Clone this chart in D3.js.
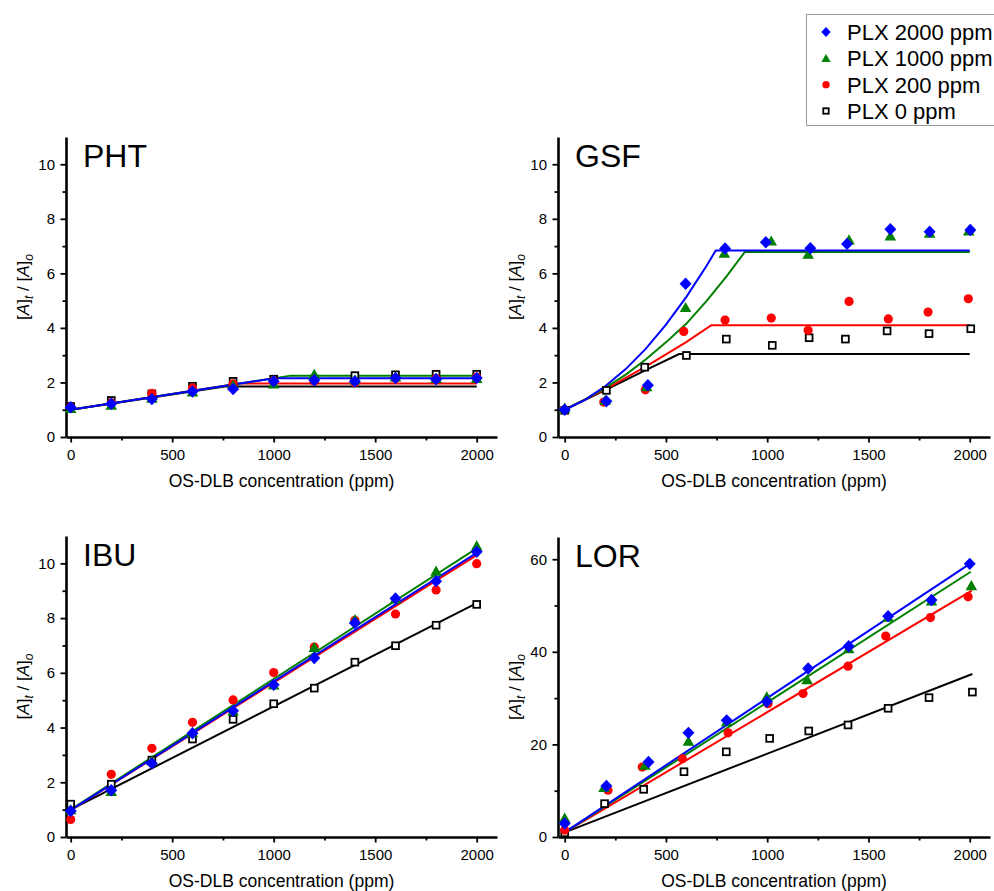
<!DOCTYPE html>
<html>
<meta charset="utf-8">
<script src="https://d3js.org/d3.v7.min.js"></script>
<style>
  body { margin: 0; background: #fff; }
  text { font-family: "Liberation Sans", Arial, sans-serif; fill: #000; }
</style>
<body>
<div id="vis"></div>
<script>
// ---- data ----
var dose = [0, 200, 400, 600, 800, 1000, 1200, 1400, 1600, 1800, 2000];
var seriesNames = ["PLX 2000 ppm", "PLX 1000 ppm", "PLX 200 ppm", "PLX 0 ppm"];

// PHT
var phtBlue  = [1.09, 1.22, 1.39, 1.67, 1.76, 2.04, 2.08, 2.04, 2.16, 2.12, 2.16];
var phtGreen = [1.05, 1.17, 1.42, 1.65, 1.90, 1.95, 2.30, 2.10, 2.20, 2.15, 2.15];
var phtRed   = [1.10, 1.25, 1.60, 1.80, 1.95, 2.05, 2.05, 2.00, 2.15, 2.15, 2.20];
var phtBlack = [1.12, 1.34, 1.58, 1.86, 2.04, 2.12, 2.10, 2.25, 2.28, 2.30, 2.30];
var phtFitBlue  = [[0, 1.0], [1000, 2.15], [2000, 2.15]];
var phtFitGreen = [[0, 1.0], [1085, 2.25], [2000, 2.25]];
var phtFitRed   = [[0, 1.0], [830, 1.96], [2000, 1.96]];
var phtFitBlack = [[0, 1.0], [760, 1.85], [2000, 1.85]];

// GSF
var gsfBlueX  = [0, 206, 411, 597, 792, 993, 1213, 1394, 1608, 1802, 2003];
var gsfBlue   = [1.0, 1.31, 1.90, 5.62, 6.91, 7.14, 6.92, 7.08, 7.62, 7.53, 7.59];
var gsfGreenX = [0, 200, 405, 597, 788, 1020, 1202, 1404, 1608, 1802, 1995];
var gsfGreen  = [1.06, 1.35, 1.85, 4.75, 6.74, 7.19, 6.70, 7.23, 7.37, 7.47, 7.56];
var gsfRedX   = [0, 193, 398, 588, 792, 1020, 1202, 1404, 1598, 1794, 1993];
var gsfRed    = [1.0, 1.28, 1.73, 3.87, 4.29, 4.36, 3.91, 4.97, 4.33, 4.58, 5.07];
var gsfBlackX = [0, 206, 395, 601, 798, 1025, 1207, 1386, 1592, 1799, 2005];
var gsfBlack  = [0.98, 1.71, 2.56, 2.99, 3.59, 3.36, 3.64, 3.59, 3.89, 3.79, 3.97];
var gsfFitBlue  = [[0, 1.0], [100, 1.36], [200, 1.86], [300, 2.48], [400, 3.23], [500, 4.12], [600, 5.13], [700, 6.27], [746, 6.84], [2000, 6.84]];
var gsfFitGreen = [[0, 1.0], [100, 1.37], [200, 1.80], [300, 2.28], [400, 2.84], [500, 3.47], [600, 4.15], [700, 4.98], [800, 5.90], [889, 6.78], [2000, 6.78]];
var gsfFitRed   = [[0, 1.0], [200, 1.75], [400, 2.58], [600, 3.48], [724, 4.10], [2000, 4.10]];
var gsfFitBlack = [[0, 1.0], [200, 1.72], [400, 2.45], [565, 3.04], [2000, 3.04]];

// IBU
var ibuBlue  = [0.95, 1.71, 2.69, 3.79, 4.61, 5.56, 6.54, 7.82, 8.72, 9.35, 10.42];
var ibuGreen = [1.00, 1.67, 2.79, 3.81, 4.61, 5.56, 6.93, 7.95, 8.70, 9.72, 10.64];
var ibuRed   = [0.64, 2.29, 3.24, 4.19, 5.01, 6.01, 6.94, 7.92, 8.15, 9.03, 9.99];
var ibuBlack = [1.20, 1.93, 2.81, 3.58, 4.30, 4.87, 5.44, 6.39, 6.99, 7.74, 8.50];
var ibuFitBlue  = [[0, 0.98], [2000, 10.38]];
var ibuFitGreen = [[0, 1.0], [2000, 10.55]];
var ibuFitRed   = [[0, 0.98], [2000, 10.30]];
var ibuFitBlack = [[0, 1.0], [2000, 8.55]];

// LOR
var lorBlueX  = [0, 206, 414, 611, 800, 998, 1202, 1402, 1597, 1811, 2000];
var lorBlue   = [2.9, 11.0, 16.2, 22.5, 25.2, 29.2, 36.4, 41.2, 47.7, 51.2, 59.0];
var lorGreenX = [0, 194, 396, 611, 800, 998, 1197, 1402, 1597, 1811, 2008];
var lorGreen  = [4.1, 10.7, 15.5, 20.7, 24.9, 30.3, 34.0, 40.7, 47.5, 51.0, 54.3];
var lorRedX   = [0, 214, 383, 581, 807, 1004, 1177, 1399, 1585, 1806, 1992];
var lorRed    = [1.5, 10.1, 15.1, 16.9, 22.5, 28.8, 31.0, 36.9, 43.4, 47.4, 51.9];
var lorBlackX = [0, 197, 390, 589, 798, 1012, 1205, 1399, 1597, 1799, 2013];
var lorBlack  = [0.9, 7.2, 10.3, 14.1, 18.4, 21.3, 22.9, 24.2, 27.8, 30.1, 31.3];
var lorFitBlue  = [[0, 1.0], [2000, 59.0]];
var lorFitGreen = [[0, 1.0], [2005, 57.3]];
var lorFitRed   = [[0, 1.0], [2010, 53.2]];
var lorFitBlack = [[0, 1.0], [2013, 35.2]];

var xMajor = [0, 500, 1000, 1500, 2000];
var xMinor = [250, 750, 1250, 1750];

// ---- styles ----
var colors = { blue: "#0000ff", green: "#008000", red: "#ff0000", black: "#000000" };

function series(kind, xs, ys, fit) {
  return { kind: kind, pts: ys.map(function (y, i) { return [xs[i], y]; }), fit: fit };
}

var panels = [
  { name: "PHT", left: 66, right: 497, top: 137, bottom: 437, xDomain: [-23, 2100], yDomain: [0, 11],
    yMajor: [0, 2, 4, 6, 8, 10], yMinor: [1, 3, 5, 7, 9],
    series: [series("black", dose, phtBlack, phtFitBlack), series("red", dose, phtRed, phtFitRed),
             series("green", dose, phtGreen, phtFitGreen), series("blue", dose, phtBlue, phtFitBlue)] },
  { name: "GSF", left: 558, right: 990, top: 137, bottom: 437, xDomain: [-33, 2100], yDomain: [0, 11],
    yMajor: [0, 2, 4, 6, 8, 10], yMinor: [1, 3, 5, 7, 9],
    series: [series("black", gsfBlackX, gsfBlack, gsfFitBlack), series("red", gsfRedX, gsfRed, gsfFitRed),
             series("green", gsfGreenX, gsfGreen, gsfFitGreen), series("blue", gsfBlueX, gsfBlue, gsfFitBlue)] },
  { name: "IBU", left: 66, right: 497, top: 536, bottom: 837, xDomain: [-23, 2100], yDomain: [0, 11],
    yMajor: [0, 2, 4, 6, 8, 10], yMinor: [1, 3, 5, 7, 9],
    series: [series("black", dose, ibuBlack, ibuFitBlack), series("red", dose, ibuRed, ibuFitRed),
             series("green", dose, ibuGreen, ibuFitGreen), series("blue", dose, ibuBlue, ibuFitBlue)] },
  { name: "LOR", left: 558, right: 990, top: 537, bottom: 837, xDomain: [-33, 2100], yDomain: [0, 64.8],
    yMajor: [0, 20, 40, 60], yMinor: [10, 30, 50],
    series: [series("black", lorBlackX, lorBlack, lorFitBlack), series("red", lorRedX, lorRed, lorFitRed),
             series("green", lorGreenX, lorGreen, lorFitGreen), series("blue", lorBlueX, lorBlue, lorFitBlue)] }
];

var svg = d3.select("#vis").append("svg")
  .attr("width", 994)
  .attr("height", 891);

// marker drawing
function drawMarker(g, kind, s) {
  s = s || 1;
  if (kind == "blue") {
    g.append("path").attr("d", "M0," + (-6.2 * s) + "L" + (6 * s) + ",0L0," + (6.2 * s) + "L" + (-6 * s) + ",0Z")
      .attr("fill", colors.blue);
  } else if (kind == "green") {
    g.append("path").attr("d", "M0," + (-5.5 * s) + "L" + (5.8 * s) + "," + (4.6 * s) + "L" + (-5.8 * s) + "," + (4.6 * s) + "Z")
      .attr("fill", colors.green);
  } else if (kind == "red") {
    g.append("circle").attr("r", 4.6 * s).attr("fill", colors.red);
  } else {
    g.append("rect").attr("x", -3.4 * s).attr("y", -3.4 * s).attr("width", 6.8 * s).attr("height", 6.8 * s)
      .attr("fill", "#fff").attr("stroke", "#000").attr("stroke-width", 1.8);
  }
}

panels.forEach(function (p) {
  var x = d3.scaleLinear().domain(p.xDomain).range([p.left, p.right]);
  var y = d3.scaleLinear().domain(p.yDomain).range([p.bottom, p.top]);
  var g = svg.append("g");

  // minor ticks
  g.append("g").attr("transform", "translate(0," + p.bottom + ")")
    .call(d3.axisBottom(x).tickValues(xMinor).tickSize(3.5).tickSizeOuter(0).tickFormat(""))
    .call(function (a) { a.select(".domain").remove(); a.selectAll("line").attr("stroke-width", 1.8); });
  g.append("g").attr("transform", "translate(" + p.left + ",0)")
    .call(d3.axisLeft(y).tickValues(p.yMinor).tickSize(3.5).tickSizeOuter(0).tickFormat(""))
    .call(function (a) { a.select(".domain").remove(); a.selectAll("line").attr("stroke-width", 1.8); });

  // major axes
  var xa = g.append("g").attr("transform", "translate(0," + p.bottom + ")")
    .call(d3.axisBottom(x).tickValues(xMajor).tickSize(5.5).tickSizeOuter(0).tickPadding(7).tickFormat(d3.format("d")));
  var ya = g.append("g").attr("transform", "translate(" + p.left + ",0)")
    .call(d3.axisLeft(y).tickValues(p.yMajor).tickSize(5.5).tickSizeOuter(0).tickPadding(5.5).tickFormat(d3.format("d")));
  [xa, ya].forEach(function (a) {
    a.select(".domain").attr("stroke-width", 2.6);
    a.selectAll(".tick line").attr("stroke-width", 1.8);
    a.selectAll("text").style("font-size", "15px").attr("fill", "#111")
      .style("font-family", "'Liberation Sans', Arial, sans-serif");
  });

  // fit lines
  var line = d3.line().x(function (d) { return x(d[0]); }).y(function (d) { return y(d[1]); });
  p.series.forEach(function (s) {
    g.append("path").datum(s.fit).attr("d", line)
      .attr("fill", "none").attr("stroke", colors[s.kind]).attr("stroke-width", 2);
  });

  // points
  p.series.forEach(function (s) {
    s.pts.forEach(function (d) {
      var m = g.append("g").attr("transform", "translate(" + x(d[0]) + "," + y(d[1]) + ")");
      drawMarker(m, s.kind, 1);
    });
  });

  // panel label
  g.append("text").attr("x", p.left + 17).attr("y", p.top + 30)
    .style("font-size", "32px").text(p.name);

  // x title
  g.append("text").attr("x", (p.left + p.right) / 2).attr("y", p.bottom + 50)
    .attr("text-anchor", "middle").style("font-size", "17.5px").text("OS-DLB concentration (ppm)");

  // y title
  var yt = g.append("text")
    .attr("transform", "translate(" + (p.left - 37) + "," + ((p.top + p.bottom) / 2) + ") rotate(-90)")
    .attr("text-anchor", "middle").style("font-size", "17px");
  yt.append("tspan").text("[");
  yt.append("tspan").style("font-style", "italic").text("A");
  yt.append("tspan").text("]");
  yt.append("tspan").style("font-style", "italic").style("font-size", "12px").attr("dy", 4).text("t");
  yt.append("tspan").attr("dy", -4).text(" / [");
  yt.append("tspan").style("font-style", "italic").text("A");
  yt.append("tspan").text("]");
  yt.append("tspan").style("font-style", "italic").style("font-size", "12px").attr("dy", 4).text("o");
});

// legend
var lg = svg.append("g");
lg.append("rect").attr("x", 806.5).attr("y", 14.5).attr("width", 200).attr("height", 111)
  .attr("fill", "#fff").attr("stroke", "#999").attr("stroke-width", 1);
var legendKinds = ["blue", "green", "red", "black"];
var legendY = d3.scalePoint().domain(seriesNames).range([32, 111]);
seriesNames.forEach(function (n, i) {
  var m = lg.append("g").attr("transform", "translate(826," + legendY(n) + ")");
  drawMarker(m, legendKinds[i], 0.8);
  lg.append("text").attr("x", 847).attr("y", legendY(n)).attr("dy", "0.36em")
    .style("font-size", "22px").text(n);
});
</script>
</body>
</html>
